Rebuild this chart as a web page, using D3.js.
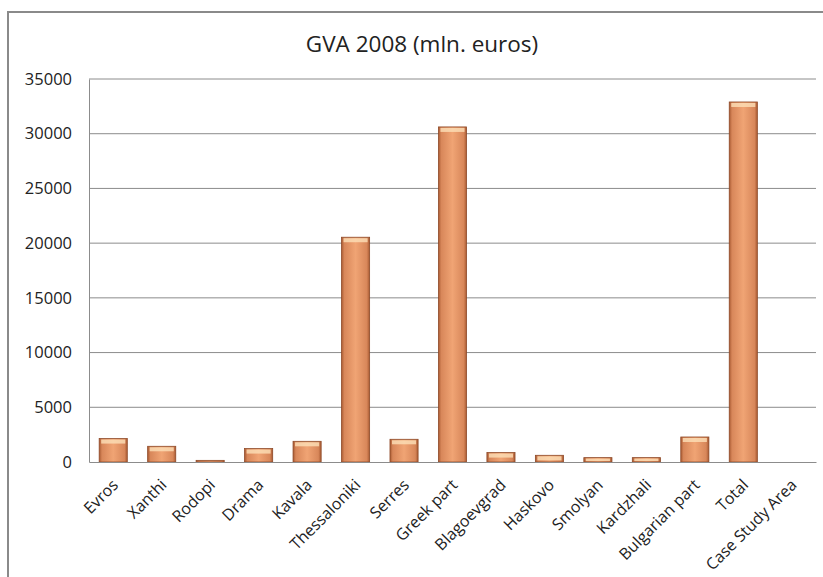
<!DOCTYPE html>
<html><head><meta charset="utf-8">
<script src="https://cdn.jsdelivr.net/npm/d3@7"></script>
<style>body{margin:0;background:#fff}svg{display:block}</style>
</head><body>
<svg id="c" width="823" height="577"></svg>
<script>
const categories = ["Evros","Xanthi","Rodopi","Drama","Kavala","Thessaloniki","Serres","Greek part","Blagoevgrad","Haskovo","Smolyan","Kardzhali","Bulgarian part","Total","Case Study Area"];
const values = [2140,1435,150,1225,1890,20540,2075,30620,860,612,400,400,2285,32900,null];
const yTicks = [0,5000,10000,15000,20000,25000,30000,35000];
const title = "GVA 2008 (mln. euros)";

const svg = d3.select("#c");
const font = "'Open Sans', sans-serif";
const m = {left:89, right:816, top:79, bottom:462};

svg.append("rect").attr("x",8).attr("y",12).attr("width",830).attr("height",600)
  .attr("fill","#fff").attr("stroke","#8a8a8a").attr("stroke-width",2);

const defs = svg.append("defs");
const g1 = defs.append("linearGradient").attr("id","bar").attr("x1","0").attr("x2","1").attr("y1","0").attr("y2","0");
[[0,"#a85a32"],[0.1,"#d8875a"],[0.5,"#f0a474"],[0.9,"#d8875a"],[1,"#a85a32"]].forEach(([o,c])=>g1.append("stop").attr("offset",o).attr("stop-color",c));

const x = d3.scaleBand().domain(categories).range([m.left,m.right]).paddingInner(0.42).paddingOuter(0.21);
const y = d3.scaleLinear().domain([0,35000]).range([m.bottom,m.top]);

svg.append("g").selectAll("line").data(yTicks.filter(d=>d>0)).join("line")
  .attr("x1",m.left).attr("x2",m.right).attr("y1",d=>y(d)).attr("y2",d=>y(d))
  .attr("stroke","#8c8c8c").attr("stroke-width",1);

const yAxis = svg.append("g").attr("transform",`translate(${m.left},0)`)
  .call(d3.axisLeft(y).tickValues(yTicks).tickSize(0).tickPadding(17).tickFormat(d3.format("d")));
yAxis.select(".domain").attr("stroke","#8c8c8c");
yAxis.selectAll("text").attr("font-family",font).attr("font-size",16.5).attr("fill","#222");

const bars = svg.append("g").selectAll("g").data(categories.map((c,i)=>({c,v:values[i]})).filter(d=>d.v!=null)).join("g");
bars.append("rect").attr("x",d=>x(d.c)).attr("width",x.bandwidth())
  .attr("y",d=>y(d.v)).attr("height",d=>y(0)-y(d.v))
  .attr("fill","url(#bar)").attr("stroke","#8e4a28").attr("stroke-width",0.8);
bars.append("rect").attr("x",d=>x(d.c)+2).attr("width",x.bandwidth()-4)
  .attr("y",d=>y(d.v)+1).attr("height",d=>Math.min(4,Math.max(0,y(0)-y(d.v)-2)))
  .attr("fill","#fde0b8").attr("opacity",0.8);

const xAxis = svg.append("g").attr("transform",`translate(0,${m.bottom})`)
  .call(d3.axisBottom(x).tickSize(0).tickPadding(0));
xAxis.select(".domain").attr("stroke","#8c8c8c");
xAxis.selectAll("text").attr("font-family",font).attr("font-size",16).attr("fill","#222")
  .attr("text-anchor","end").attr("dy","0")
  .attr("transform",`translate(6,24) rotate(-45)`);

svg.append("text").attr("x",422).attr("y",52).attr("text-anchor","middle")
  .attr("font-family",font).attr("font-size",22.5).attr("fill","#222").text(title);
</script>
</body></html>
